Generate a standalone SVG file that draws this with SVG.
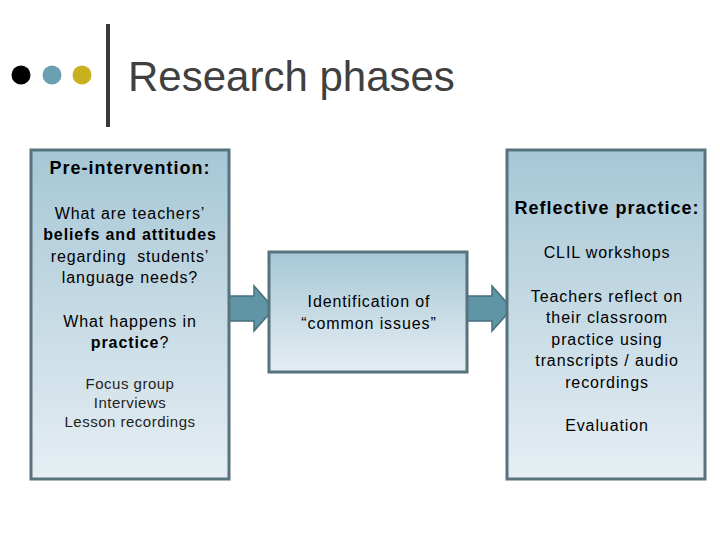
<svg xmlns="http://www.w3.org/2000/svg" width="720" height="540" viewBox="0 0 720 540">
<defs>
<linearGradient id="boxGrad" x1="0" y1="0" x2="0" y2="1">
<stop offset="0" stop-color="#a6c7d6"/>
<stop offset="1" stop-color="#e6eef3"/>
</linearGradient>
<style>
.box{fill:url(#boxGrad);stroke:#56737e;stroke-width:3}
.t{font-family:"Liberation Sans",Arial,sans-serif;fill:#000;text-anchor:middle}
.h{font-size:18px;font-weight:bold;letter-spacing:1px}
.b{font-size:16px;letter-spacing:0.9px}
.s{font-size:15px;fill:#222;letter-spacing:0.5px}
.bold{font-weight:bold}
.arrow{fill:#5f95a5;stroke:#47707d;stroke-width:1.5}
</style>
</defs>
<rect width="720" height="540" fill="#fff"/>
<g id="header">
<circle cx="21" cy="75" r="9.5" fill="#000"/>
<circle cx="52" cy="75" r="9.5" fill="#6b9fb2"/>
<circle cx="82" cy="75" r="9.5" fill="#c9b01e"/>
<rect x="106" y="24" width="4" height="103" fill="#3a3a3a"/>
<text x="128" y="91" font-family="&quot;Liberation Sans&quot;,Arial,sans-serif" font-size="42" fill="#404040">Research phases</text>
</g>
<g id="connectors">
<path class="arrow" d="M229,296 L254,296 L254,286 L274,308.5 L254,331 L254,321 L229,321 Z"/>
<path class="arrow" d="M467,296 L492,296 L492,286 L512,308.5 L492,331 L492,321 L467,321 Z"/>
</g>
<g id="pre-intervention">
<rect class="box" x="31" y="150" width="198" height="329"/>
<text class="t h" x="130" y="174">Pre-intervention:</text>
<text class="t b" x="130" y="219">What are teachers’</text>
<text class="t b bold" x="130" y="240">beliefs and attitudes</text>
<text class="t b" x="130" y="262" xml:space="preserve">regarding  students’</text>
<text class="t b" x="130" y="283">language needs?</text>
<text class="t b" x="130" y="327">What happens in</text>
<text class="t b" x="130" y="348"><tspan font-weight="bold">practice</tspan>?</text>
<text class="t s" x="130" y="389">Focus group</text>
<text class="t s" x="130" y="408">Interviews</text>
<text class="t s" x="130" y="427">Lesson recordings</text>
</g>
<g id="identification">
<rect class="box" x="269" y="252" width="198" height="120"/>
<text class="t b" x="369" y="307">Identification of</text>
<text class="t b" x="369" y="329">“common issues”</text>
</g>
<g id="reflective">
<rect class="box" x="507" y="150" width="198" height="329"/>
<text class="t h" x="607" y="214">Reflective practice:</text>
<text class="t b" x="607" y="258">CLIL workshops</text>
<text class="t b" x="607" y="302">Teachers reflect on</text>
<text class="t b" x="607" y="323">their classroom</text>
<text class="t b" x="607" y="345">practice using</text>
<text class="t b" x="607" y="366">transcripts / audio</text>
<text class="t b" x="607" y="388">recordings</text>
<text class="t b" x="607" y="431">Evaluation</text>
</g>
</svg>
